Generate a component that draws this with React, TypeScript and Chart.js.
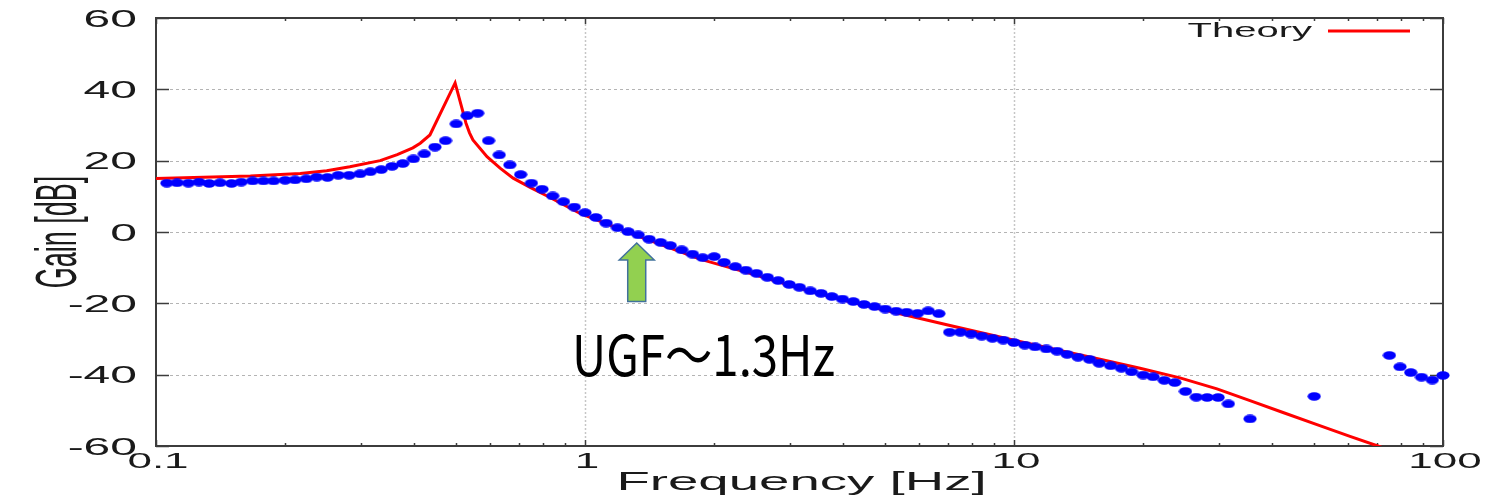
import React, { useEffect, useRef } from "react";
import { Chart, registerables } from "chart.js";

Chart.register(...registerables);

// Measured open-loop gain (blue dots)
const measFreq: number[] = [
  0.106, 0.112, 0.119, 0.126, 0.133, 0.141, 0.15, 0.158, 0.168, 0.178,
  0.188, 0.2, 0.211, 0.224, 0.237, 0.251, 0.266, 0.282, 0.299, 0.316,
  0.335, 0.355, 0.376, 0.398, 0.422, 0.447, 0.473, 0.501, 0.531, 0.562,
  0.596, 0.631, 0.668, 0.708, 0.75, 0.794, 0.841, 0.891, 0.944, 1.0,
  1.06, 1.12, 1.19, 1.26, 1.33, 1.41, 1.5, 1.58, 1.68, 1.78,
  1.88, 2.0, 2.11, 2.24, 2.37, 2.51, 2.66, 2.82, 2.99, 3.16,
  3.35, 3.55, 3.76, 3.98, 4.22, 4.47, 4.73, 5.01, 5.31, 5.62,
  5.96, 6.31, 6.68, 7.08, 7.5, 7.94, 8.41, 8.91, 9.44, 10.0,
  10.6, 11.2, 11.9, 12.6, 13.3, 14.1, 15.0, 15.8, 16.8, 17.8,
  18.8, 20.0, 21.1, 22.4, 23.7, 25.1, 26.6, 28.2, 29.9, 31.6,
  35.5, 50.1, 75.0, 79.4, 84.1, 89.1, 94.4, 100.0,
];
const measGain: number[] = [
  13.7, 13.8, 13.7, 14.0, 13.6, 13.8, 13.6, 14.0, 14.3, 14.3,
  14.3, 14.5, 14.6, 14.9, 15.4, 15.3, 15.9, 15.9, 16.3, 16.9,
  17.5, 18.4, 19.2, 20.5, 21.9, 23.8, 25.6, 30.3, 32.6, 33.3,
  25.6, 21.6, 18.8, 16.1, 13.7, 12.0, 10.1, 8.5, 7.0, 5.4,
  4.1, 2.5, 1.2, 0.1, -0.8, -2.0, -2.9, -3.8, -5.0, -6.2,
  -7.2, -6.9, -8.5, -9.7, -10.7, -11.6, -12.7, -13.6, -14.7, -15.5,
  -16.5, -17.2, -18.1, -18.8, -19.5, -20.3, -20.9, -21.6, -22.2, -22.5,
  -22.8, -22.1, -22.9, -28.1, -28.1, -28.6, -29.2, -29.8, -30.3, -31.0,
  -31.7, -32.2, -32.8, -33.4, -34.3, -35.1, -35.7, -36.8, -37.5, -38.2,
  -39.2, -40.1, -40.6, -41.6, -42.2, -44.7, -46.3, -46.4, -46.4, -48.2,
  -52.4, -46.1, -34.6, -37.8, -39.4, -40.7, -41.5, -40.2,
];

// Theory curve (red)
const theoryFreq: number[] = [
  0.1, 0.166, 0.217, 0.25, 0.283, 0.333, 0.365, 0.397, 0.413, 0.435,
  0.498, 0.528, 0.538, 0.548, 0.591, 0.634, 0.68, 0.745, 0.816, 0.974,
  1.163, 1.273, 1.854, 2.424, 3.171, 4.147, 5.424, 7.093, 9.947, 12.8,
  15.87, 19.67, 24.37, 29.73, 35.49, 42.37, 50.84, 60.7, 71.3, 100,
];
const theoryGain: number[] = [
  15.0, 15.7, 16.4, 17.2, 18.3, 20.0, 21.7, 23.6, 24.9, 27.2,
  41.8, 30.5, 27.8, 25.8, 21.1, 17.9, 15.1, 12.5, 10.1, 5.2,
  1.6, -0.3, -7.6, -11.6, -15.8, -19.6, -22.9, -26.2, -30.3, -33.2,
  -35.7, -38.2, -40.9, -44.0, -47.3, -50.6, -54.0, -57.3, -60.2, -66.5,
];

const xMajorTicks: number[] = [0.1, 1, 10, 100];
const xTickLabels: string[] = ["0.1", "1", "10", "100"];
const xMinorTicks: number[] = [
  0.2, 0.3, 0.4, 0.5, 0.6, 0.7, 0.8, 0.9,
  2, 3, 4, 5, 6, 7, 8, 9,
  20, 30, 40, 50, 60, 70, 80, 90,
];
const xGridValues: number[] = [1, 10];
const yTicks: number[] = [-60, -40, -20, 0, 20, 40, 60];
const yTickLabels: string[] = ["-60", "-40", "-20", "0", "20", "40", "60"];

const xTitle = "Frequency [Hz]";
const yTitle = "Gain [dB]";
const legendLabel = "Theory";
const ugfText = "UGF～1.3Hz";
const ugfArrowFreq = 1.32;
const ugfArrowTipGain = -3.1;
const ugfArrowBaseGain = -19.5;
const ugfTextFreq = 0.933;
const ugfTextGain = -40.4;

const LABEL_FONT = '"Liberation Sans", Arial, sans-serif';

function makeDot(): HTMLCanvasElement {
  const c = document.createElement("canvas");
  c.width = 14;
  c.height = 9;
  const g = c.getContext("2d")!;
  g.fillStyle = "#0000ff";
  g.beginPath();
  g.ellipse(7, 4.5, 6.6, 4.2, 0, 0, Math.PI * 2);
  g.fill();
  return c;
}

function stretched(
  ctx: CanvasRenderingContext2D,
  text: string,
  x: number,
  y: number,
  font: string,
  sx: number,
  align: CanvasTextAlign,
  baseline: CanvasTextBaseline
) {
  ctx.save();
  ctx.translate(x, y);
  ctx.scale(sx, 1);
  ctx.font = font;
  ctx.textAlign = align;
  ctx.textBaseline = baseline;
  ctx.fillText(text, 0, 0);
  ctx.restore();
}

const decorPlugin = {
  id: "decor",
  beforeDatasetsDraw(chart: any) {
    const { ctx, chartArea: a, scales } = chart;
    const xs = scales.x;
    const ys = scales.y;
    ctx.save();
    // horizontal grid
    ctx.strokeStyle = "#b4b4b4";
    ctx.lineWidth = 1;
    ctx.setLineDash([3, 3]);
    for (const v of yTicks) {
      if (v === -60 || v === 60) continue;
      const py = Math.round(ys.getPixelForValue(v)) + 0.5;
      ctx.beginPath();
      ctx.moveTo(a.left + 14, py);
      ctx.lineTo(a.right - 14, py);
      ctx.stroke();
    }
    // vertical grid
    ctx.strokeStyle = "#c6c6c6";
    ctx.lineWidth = 1.5;
    ctx.setLineDash([2, 2]);
    for (const v of xGridValues) {
      const px = Math.round(xs.getPixelForValue(v)) + 0.5;
      ctx.beginPath();
      ctx.moveTo(px, a.top + 6);
      ctx.lineTo(px, a.bottom - 6);
      ctx.stroke();
    }
    ctx.setLineDash([]);
    // frame
    ctx.strokeStyle = "#3c3c3c";
    ctx.lineWidth = 2;
    ctx.strokeRect(a.left, a.top, a.right - a.left, a.bottom - a.top);
    // y ticks (inside, both sides)
    ctx.lineWidth = 1.5;
    for (const v of yTicks) {
      const py = Math.round(ys.getPixelForValue(v)) + 0.5;
      ctx.beginPath();
      ctx.moveTo(a.left, py);
      ctx.lineTo(a.left + 13, py);
      ctx.moveTo(a.right - 13, py);
      ctx.lineTo(a.right, py);
      ctx.stroke();
    }
    // x ticks
    for (const v of xMajorTicks) {
      const px = Math.round(xs.getPixelForValue(v)) + 0.5;
      ctx.beginPath();
      ctx.moveTo(px, a.bottom);
      ctx.lineTo(px, a.bottom - 6);
      ctx.moveTo(px, a.top);
      ctx.lineTo(px, a.top + 6);
      ctx.stroke();
    }
    ctx.lineWidth = 1.5;
    for (const v of xMinorTicks) {
      const px = Math.round(xs.getPixelForValue(v)) + 0.5;
      ctx.beginPath();
      ctx.moveTo(px, a.bottom);
      ctx.lineTo(px, a.bottom - 3);
      ctx.moveTo(px, a.top);
      ctx.lineTo(px, a.top + 3);
      ctx.stroke();
    }
    ctx.restore();
  },
  afterDraw(chart: any) {
    const { ctx, chartArea: a, scales } = chart;
    const xs = scales.x;
    const ys = scales.y;
    ctx.save();
    ctx.fillStyle = "#1a1a1a";
    // y tick labels
    yTicks.forEach((v, i) => {
      const py = ys.getPixelForValue(v);
      stretched(ctx, yTickLabels[i], a.left - 19, py + 8.5, `24px ${LABEL_FONT}`, 2, "right", "alphabetic");
    });
    // x tick labels
    xMajorTicks.forEach((v, i) => {
      const px = xs.getPixelForValue(v);
      stretched(ctx, xTickLabels[i], px + 2, a.bottom + 22, `22px ${LABEL_FONT}`, 2, "center", "alphabetic");
    });
    // x title
    stretched(ctx, xTitle, (a.left + a.right) / 2 + 2, a.bottom + 44, `26px ${LABEL_FONT}`, 2.1, "center", "alphabetic");
    // y title (rotated, stretched horizontally on screen)
    ctx.save();
    ctx.translate(a.left - 96, (a.top + a.bottom) / 2);
    ctx.scale(2.1, 1);
    ctx.rotate(-Math.PI / 2);
    ctx.font = `27px ${LABEL_FONT}`;
    ctx.textAlign = "center";
    ctx.textBaseline = "middle";
    ctx.fillText(yTitle, 0, 0);
    ctx.restore();
    // legend
    stretched(ctx, legendLabel, a.right - 131, a.top + 19, `20px ${LABEL_FONT}`, 2, "right", "alphabetic");
    ctx.strokeStyle = "#ff0000";
    ctx.lineWidth = 3;
    ctx.beginPath();
    ctx.moveTo(a.right - 115, a.top + 13);
    ctx.lineTo(a.right - 33, a.top + 13);
    ctx.stroke();
    // UGF arrow
    const ax = xs.getPixelForValue(ugfArrowFreq);
    const tipY = ys.getPixelForValue(ugfArrowTipGain);
    const baseY = ys.getPixelForValue(ugfArrowBaseGain);
    const headH = 17;
    const headW = 17.5;
    const shaftW = 9;
    ctx.beginPath();
    ctx.moveTo(ax, tipY);
    ctx.lineTo(ax + headW, tipY + headH);
    ctx.lineTo(ax + shaftW, tipY + headH);
    ctx.lineTo(ax + shaftW, baseY);
    ctx.lineTo(ax - shaftW, baseY);
    ctx.lineTo(ax - shaftW, tipY + headH);
    ctx.lineTo(ax - headW, tipY + headH);
    ctx.closePath();
    ctx.fillStyle = "#92d050";
    ctx.fill();
    ctx.strokeStyle = "#41719c";
    ctx.lineWidth = 1.5;
    ctx.stroke();
    // UGF text
    const tx = xs.getPixelForValue(ugfTextFreq);
    const ty = ys.getPixelForValue(ugfTextGain);
    const ugfFont = '56px "Noto Sans CJK JP", sans-serif';
    ctx.font = ugfFont;
    const w = ctx.measureText(ugfText).width;
    ctx.fillStyle = "#000000";
    stretched(ctx, ugfText, tx, ty, ugfFont, 263 / w, "left", "alphabetic");
    ctx.restore();
  },
};

export default function App() {
  const ref = useRef<HTMLCanvasElement | null>(null);

  useEffect(() => {
    document.body.style.margin = "0";
    const canvas = ref.current;
    if (!canvas) return;
    const dot = makeDot();
    const chart = new Chart(canvas, {
      type: "scatter",
      data: {
        datasets: [
          {
            label: "Measured",
            data: measFreq.map((f, i) => ({ x: f, y: measGain[i] })),
            pointStyle: dot as any,
            pointRadius: 5,
            showLine: false,
            order: 0,
            clip: false as any,
          },
          {
            label: legendLabel,
            data: theoryFreq.map((f, i) => ({ x: f, y: theoryGain[i] })),
            showLine: true,
            borderColor: "#ff0000",
            borderWidth: 3,
            pointRadius: 0,
            tension: 0,
            order: 1,
          },
        ],
      },
      options: {
        responsive: false,
        animation: false,
        devicePixelRatio: 1,
        layout: { padding: { left: 156, right: 55, top: 18, bottom: 54 } },
        plugins: {
          legend: { display: false },
          tooltip: { enabled: false },
        },
        scales: {
          x: {
            type: "logarithmic",
            min: 0.1,
            max: 100,
            display: false,
          },
          y: {
            type: "linear",
            min: -60,
            max: 60,
            display: false,
          },
        },
      },
      plugins: [decorPlugin],
    });
    return () => chart.destroy();
  }, []);

  return (
    <canvas
      ref={ref}
      width={1498}
      height={500}
      style={{ display: "block", width: 1498, height: 500 }}
    />
  );
}
